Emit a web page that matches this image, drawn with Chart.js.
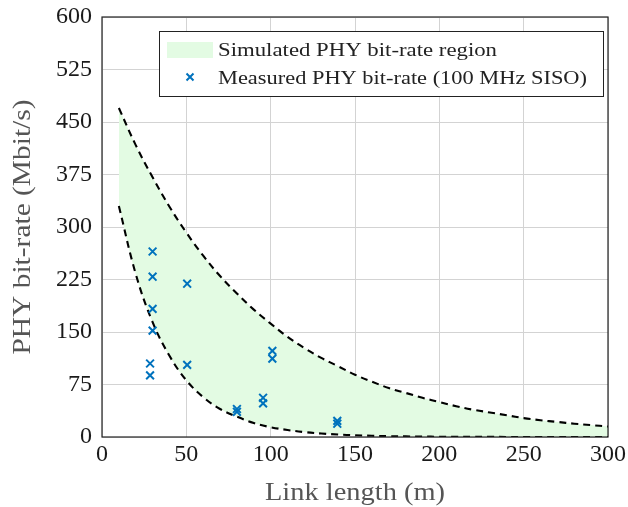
<!DOCTYPE html>
<html>
<head>
<meta charset="utf-8">
<script src="https://cdn.jsdelivr.net/npm/chart.js@4/dist/chart.umd.min.js"></script>
<style>
html,body{margin:0;padding:0;background:#fff;}
#wrap{width:628px;height:507px;position:relative;}
</style>
</head>
<body>
<div id="wrap"><canvas id="c" width="628" height="507"></canvas></div>
<script>
// Region boundary curves
const curveX = [10,20,30,40,50,60,70,80,90,100,110,120,130,140,150,160,170,180,190,200,210,220,230,240,250,260,270,280,290,300];
const upperY = [470,417,371,329,292,259,230,205,182,162,143,127,113,101,89,79,70,63,56,50,44,39,35,31,27,24,21.5,19,17,15];
const lowerY = [330,233,164,116,81,57,40,29,20,14,10,7,5,3.5,2.5,1.7,1.2,0.9,0.6,0.4,0.3,0.2,0.15,0.1,0.1,0.1,0.1,0.1,0.1,0.1];
// Measured points
const measX = [30,30,30,30,28.5,28.5,50.5,50.5,80,80,95.5,95.5,101,101,139.5,139.5];
const measY = [265,229,183,152,105,88,219,103,40,36,56,48,123,112,23,19];
// Tick labels
const xTicks = [0,50,100,150,200,250,300];
const yTicks = [0,75,150,225,300,375,450,525,600];
const legendLabels = ['Simulated PHY bit-rate region','Measured PHY bit-rate (100 MHz SISO)'];
const xTitle = 'Link length (m)';
const yTitle = 'PHY bit-rate (Mbit/s)';

const FILL = '#e3fbe3';
const BLUE = '#0072bd';
const SERIF = '"Liberation Serif", "DejaVu Serif", serif';

const upperPts = curveX.map((x,i)=>({x:x,y:upperY[i]}));
const lowerPts = curveX.map((x,i)=>({x:x,y:lowerY[i]}));
const measPts = measX.map((x,i)=>({x:x,y:measY[i]}));

function stretchText(ctx, text, x, y, targetW, align){
  const w = ctx.measureText(text).width;
  const k = targetW / w;
  ctx.save();
  ctx.translate(x, y);
  ctx.scale(k, 1);
  ctx.textAlign = align || 'left';
  ctx.fillText(text, 0, 0);
  ctx.restore();
}

const legendPlugin = {
  id:'customLegend',
  afterDatasetsDraw(chart){
    const ctx = chart.ctx;
    ctx.save();
    const x0=159, y0=31, w=444, h=65;
    ctx.fillStyle='#fff';
    ctx.fillRect(x0,y0,w,h);
    ctx.strokeStyle='#222';
    ctx.lineWidth=1;
    ctx.strokeRect(x0+0.5,y0+0.5,w,h);
    ctx.fillStyle=FILL;
    ctx.fillRect(167,42,46,16);
    ctx.strokeStyle=BLUE; ctx.lineWidth=2;
    const cx=190, cy=77, r=3.5;
    ctx.beginPath();
    ctx.moveTo(cx-r,cy-r); ctx.lineTo(cx+r,cy+r);
    ctx.moveTo(cx-r,cy+r); ctx.lineTo(cx+r,cy-r);
    ctx.stroke();
    ctx.fillStyle='#222';
    ctx.font='18.5px '+SERIF;
    ctx.textBaseline='alphabetic';
    stretchText(ctx, legendLabels[0], 218, 56, 279, 'left');
    stretchText(ctx, legendLabels[1], 218, 83.5, 369, 'left');
    ctx.restore();
  }
};

const framePlugin = {
  id:'frame',
  afterDraw(chart){
    const a=chart.chartArea, ctx=chart.ctx;
    ctx.save();
    ctx.strokeStyle='#222'; ctx.lineWidth=1.2;
    ctx.strokeRect(a.left,a.top,a.right-a.left,a.bottom-a.top);
    // axis titles
    ctx.fillStyle='#555';
    ctx.font='25px '+SERIF;
    ctx.textBaseline='alphabetic';
    stretchText(ctx, xTitle, (a.left+a.right)/2, 500, 180, 'center');
    ctx.save();
    ctx.translate(30, (a.top+a.bottom)/2);
    ctx.rotate(-Math.PI/2);
    stretchText(ctx, yTitle, 0, 0, 255, 'center');
    ctx.restore();
    ctx.restore();
  }
};

new Chart(document.getElementById('c'),{
  type:'scatter',
  data:{
    datasets:[
      {type:'line',label:'upper',data:upperPts,borderColor:'#000',borderWidth:2.1,borderDash:[7,5],pointRadius:0,fill:'+1',backgroundColor:FILL,tension:0.4,order:2},
      {type:'line',label:'lower',data:lowerPts,borderColor:'#000',borderWidth:2.1,borderDash:[7,5],pointRadius:0,fill:false,tension:0.4,order:2},
      {type:'scatter',label:legendLabels[1],data:measPts,pointStyle:'crossRot',pointRadius:5.5,pointBorderWidth:2,borderColor:BLUE,backgroundColor:BLUE,order:1}
    ]
  },
  options:{
    responsive:false,
    animation:false,
    events:[],
    layout:{padding:{top:17,right:20,left:0,bottom:0}},
    plugins:{legend:{display:false},tooltip:{enabled:false},filler:{drawTime:'beforeDatasetsDraw',propagate:false}},
    scales:{
      x:{
        type:'linear',min:0,max:300,
        afterBuildTicks(s){s.ticks=xTicks.map(v=>({value:v}));},
        afterFit(s){s.height=70;s.paddingLeft=0;s.paddingRight=0;},
        grid:{color:'#d3d3d3',lineWidth:1,drawTicks:false},
        border:{display:false},
        ticks:{color:'#1a1a1a',font:{family:SERIF,size:24},padding:3,maxRotation:0},
        title:{display:false}
      },
      y:{
        type:'linear',min:0,max:600,
        afterBuildTicks(s){s.ticks=yTicks.map(v=>({value:v}));},
        afterFit(s){s.width=102;s.paddingTop=0;s.paddingBottom=0;},
        grid:{color:'#d3d3d3',lineWidth:1,drawTicks:false},
        border:{display:false},
        ticks:{color:'#1a1a1a',font:{family:SERIF,size:24},padding:10},
        title:{display:false}
      }
    }
  },
  plugins:[legendPlugin,framePlugin]
});
</script>
</body>
</html>
